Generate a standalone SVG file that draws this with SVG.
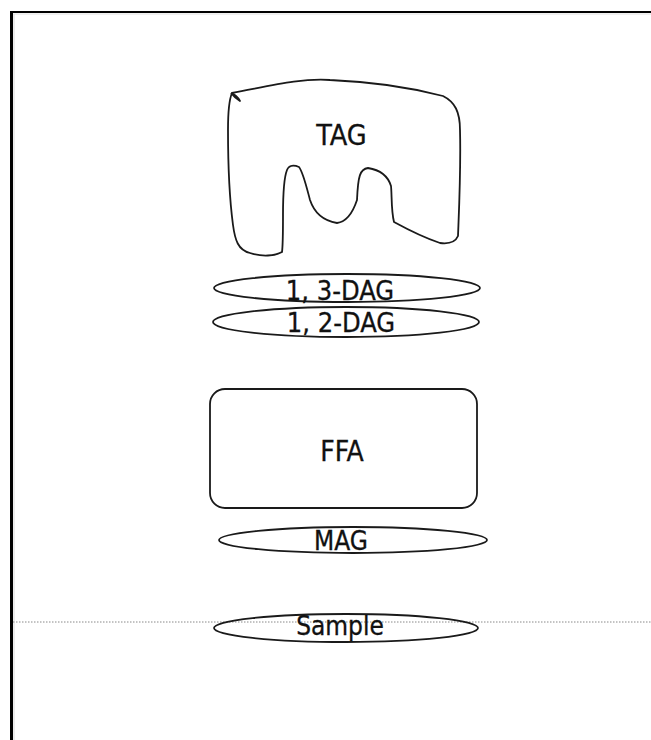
<svg xmlns="http://www.w3.org/2000/svg" width="651" height="740" viewBox="0 0 651 740">
<style>
.shape{fill:none;stroke:#1a1a1a;stroke-width:1.8;stroke-linejoin:round}
.lbl{font-family:"DejaVu Sans Condensed","DejaVu Sans",sans-serif;font-size:26px;fill:#111;stroke:#111;stroke-width:0.3;text-anchor:middle}
</style>
<rect width="651" height="740" fill="#ffffff"/>
<g id="frame">
<line x1="11.5" y1="11" x2="11.5" y2="740" stroke="#000" stroke-width="3"/>
<line x1="10" y1="12" x2="651" y2="12" stroke="#000" stroke-width="2"/>
<line x1="14" y1="14" x2="14" y2="740" stroke="#d8d8d8" stroke-width="1"/>
<line x1="13" y1="14" x2="651" y2="14" stroke="#e0e0e0" stroke-width="1"/>
</g>
<g id="connectors">
<line x1="13" y1="622" x2="651" y2="622" stroke="#888" stroke-width="1" stroke-dasharray="1.5,1.5"/>
</g>
<g id="TAG">
<path class="shape" d="M232,93 C270,86 300,78 330,80 C380,82 420,90 443,96 C455,102 460,112 460,130 C461,170 459,210 458,236 C455,243 448,244 440,243 C425,238 405,228 394,222 C391,210 392,195 391,186 C388,176 380,170 368,168 C360,169 358,176 357,200 C352,215 345,222 337,223 C325,221 315,215 310,200 C306,185 303,172 299,167 C294,165 289,165 287,170 C283,180 283,200 283,215 C283,235 283,245 282,252 C275,256 262,257 250,253 C238,250 235,240 233,225 C229,195 228,160 228,130 C228,110 229,100 232,93 Z"/>
<path class="shape" d="M231,93 C234,94 238,97 240,101 C237,99 234,97 231,93" />
<text class="lbl" x="341.5" y="145" style="font-size:28.5px">TAG</text>
</g>
<g id="DAG13">
<ellipse class="shape" cx="347" cy="288" rx="133" ry="14"/>
<text class="lbl" x="340" y="300" style="font-size:27px">1, 3-DAG</text>
</g>
<g id="DAG12">
<ellipse class="shape" cx="346" cy="322" rx="133" ry="15"/>
<text class="lbl" x="341" y="332" style="font-size:27px">1, 2-DAG</text>
</g>
<g id="FFA">
<rect class="shape" x="210" y="389" width="267" height="119" rx="15" ry="15"/>
<text class="lbl" x="342" y="461" style="font-size:28px">FFA</text>
</g>
<g id="MAG">
<ellipse class="shape" cx="353" cy="540" rx="134" ry="13"/>
<text class="lbl" x="341" y="550">MAG</text>
</g>
<g id="Sample">
<ellipse class="shape" cx="346" cy="628" rx="132" ry="14"/>
<text class="lbl" x="340" y="635">Sample</text>
</g>
</svg>
